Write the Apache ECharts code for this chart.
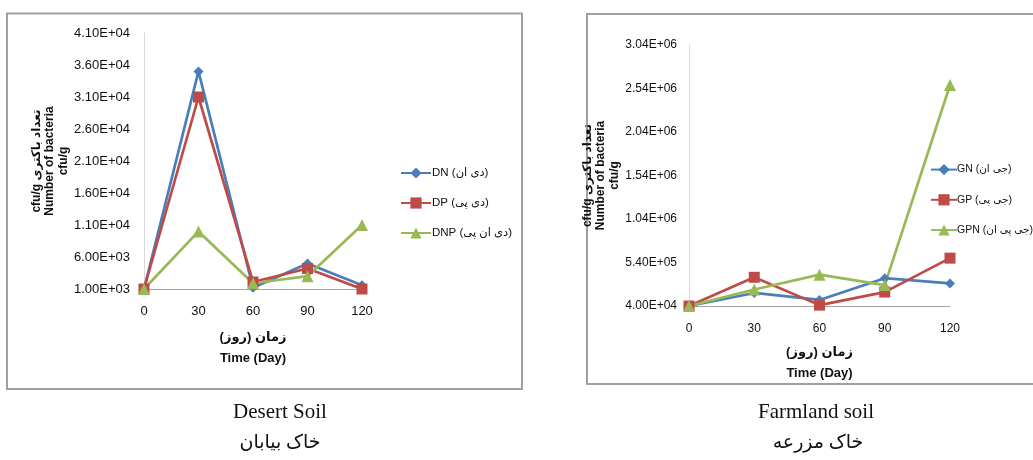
<!DOCTYPE html>
<html><head><meta charset="utf-8">
<script src="https://cdn.jsdelivr.net/npm/echarts@6/dist/echarts.min.js"></script>
<style>html,body{margin:0;padding:0;background:#fff}#c{width:1033px;height:460px}</style>
</head><body><div id="c"></div>
<script>
const days = ['0','30','60','90','120'];
const desertNames = ['DN (دی ان)','DP (دی پی)','DNP (دی ان پی)'];
const desertDN = [1000,35000,1200,5000,1600];
const desertDP = [1000,31000,2100,4200,1000];
const desertDNP = [1000,10000,1900,3000,11000];
const farmNames = ['GN (جی ان)','GP (جی پی)','GPN (جی پی ان)'];
const farmGN = [40000,190000,110000,360000,300000];
const farmGP = [40000,370000,50000,200000,590000];
const farmGPN = [40000,230000,400000,280000,2580000];
const desertYTicks = ['1.00E+03','6.00E+03','1.10E+04','1.60E+04','2.10E+04','2.60E+04','3.10E+04','3.60E+04','4.10E+04'];
const farmYTicks = ['4.00E+04','5.40E+05','1.04E+06','1.54E+06','2.04E+06','2.54E+06','3.04E+06'];
const xTitle = 'زمان (روز)\nTime (Day)';
const yTitle = 'cfu/g تعداد باکتری\nNumber of bacteria\ncfu/g';
const captions = [['Desert Soil','خاک بیابان'],['Farmland soil','خاک مزرعه']];

const F = '"Liberation Sans","DejaVu Sans",sans-serif';
const SERIF = '"Liberation Serif","DejaVu Sans",serif';
const colors = ['#4A7EBB','#BE4B48','#98B954'];
const symbols = ['diamond','rect','triangle'];
const symSizes = [10,11,12];

const chart = echarts.init(document.getElementById('c'));

function mkSeries(names, datas, gi) {
  return names.map((n, i) => ({
    name: n, type: 'line', xAxisIndex: gi, yAxisIndex: gi,
    data: datas[i], symbol: symbols[i], symbolSize: symSizes[i],
    lineStyle: {width: 2.7, color: colors[i]},
    itemStyle: {color: colors[i]},
    emphasis: {disabled: true}, animation: false, clip: false
  }));
}

function xAx(gi, fs, margin, gap) {
  return {
    type: 'category', gridIndex: gi, data: days, boundaryGap: false,
    axisLine: {show: true, lineStyle: {color: '#a6a6a6', width: 1}},
    axisTick: {show: false},
    axisLabel: {fontFamily: F, fontSize: fs, color: '#111', margin: margin},
    name: xTitle, nameLocation: 'middle', nameGap: gap,
    nameTextStyle: {fontFamily: F, fontSize: 13, fontWeight: 'bold', color: '#111', lineHeight: 21}
  };
}
function yAx(gi, min, max, interval, ticks, fs, margin, gap) {
  return {
    type: 'value', gridIndex: gi, min: min, max: max, interval: interval,
    axisLine: {show: true, lineStyle: {color: '#d9d9d9', width: 1}},
    axisTick: {show: false}, splitLine: {show: false},
    axisLabel: {fontFamily: F, fontSize: fs, color: '#111', margin: margin,
      formatter: v => ticks[Math.round((v - min) / interval)] || ''},
    name: yTitle, nameLocation: 'middle', nameRotate: 90, nameGap: gap,
    nameTextStyle: {fontFamily: F, fontSize: 12, fontWeight: 'bold', color: '#111', lineHeight: 13.5}
  };
}

const option = {
  backgroundColor: '#fff',
  animation: false,
  grid: [
    {left: 144, top: 33, width: 218, height: 256},
    {left: 689, top: 45, width: 261, height: 261}
  ],
  xAxis: [xAx(0, 13, 16, 38), xAx(1, 12, 17, 36)],
  yAxis: [
    yAx(0, 1000, 41000, 5000, desertYTicks, 13, 14, 72),
    yAx(1, 40000, 3040000, 500000, farmYTicks, 12, 12, 51)
  ],
  legend: [
    {data: desertNames, orient: 'vertical', left: 395, top: 162, itemWidth: 30, itemHeight: 14, itemGap: 18,
     textStyle: {fontFamily: F, fontSize: 11.5, color: '#111', padding: [0,0,0,-4]}, selectedMode: false},
    {data: farmNames, orient: 'vertical', left: 925, top: 159, itemWidth: 26, itemHeight: 14, itemGap: 19,
     textStyle: {fontFamily: F, fontSize: 10.5, color: '#111', padding: [0,0,0,-5]}, selectedMode: false}
  ],
  series: [].concat(
    mkSeries(desertNames, [desertDN, desertDP, desertDNP], 0),
    mkSeries(farmNames, [farmGN, farmGP, farmGPN], 1)
  ),
  graphic: [
    {type: 'rect', shape: {x: 7, y: 13.5, width: 515, height: 375.5}, style: {fill: 'none', stroke: '#a0a0a0', lineWidth: 2}, silent: true, z: -1},
    {type: 'rect', shape: {x: 587, y: 14, width: 460, height: 370}, style: {fill: 'none', stroke: '#a0a0a0', lineWidth: 2}, silent: true, z: -1},
    {type: 'text', x: 280, y: 412, style: {text: captions[0][0], font: '21px ' + SERIF, fill: '#111', align: 'center', verticalAlign: 'middle', textAlign: 'center', textVerticalAlign: 'middle'}},
    {type: 'text', x: 280, y: 443, style: {text: captions[0][1], font: '19px ' + SERIF, fill: '#111', align: 'center', verticalAlign: 'middle', textAlign: 'center', textVerticalAlign: 'middle'}},
    {type: 'text', x: 816, y: 412, style: {text: captions[1][0], font: '21px ' + SERIF, fill: '#111', align: 'center', verticalAlign: 'middle', textAlign: 'center', textVerticalAlign: 'middle'}},
    {type: 'text', x: 818, y: 443, style: {text: captions[1][1], font: '19px ' + SERIF, fill: '#111', align: 'center', verticalAlign: 'middle', textAlign: 'center', textVerticalAlign: 'middle'}}
  ]
};
chart.setOption(option);
</script>
</body></html>
